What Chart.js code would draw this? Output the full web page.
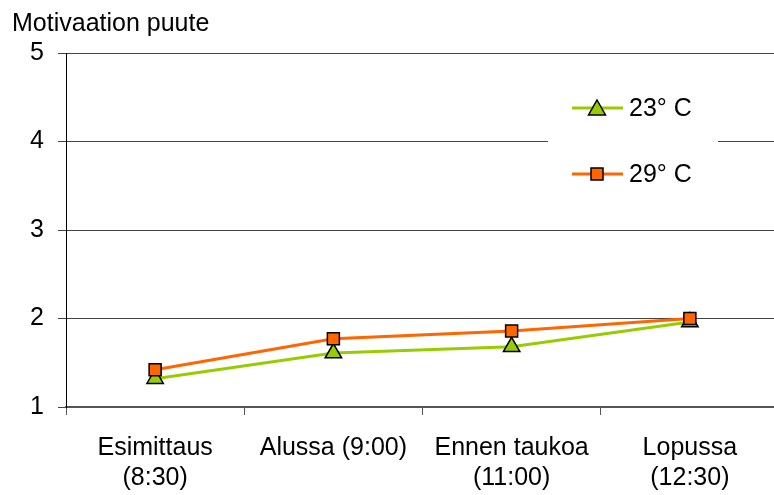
<!DOCTYPE html>
<html>
<head>
<meta charset="utf-8">
<script src="https://cdn.jsdelivr.net/npm/chart.js@4/dist/chart.umd.min.js"></script>
<style>
  html, body { margin: 0; padding: 0; overflow: hidden; background: #fff; }
  #wrap { width: 790px; height: 495px; position: relative; }
</style>
</head>
<body>
<div id="wrap"><canvas id="chart_motivaatio"></canvas></div>
<script>
// data
var categories = [
  ['Esimittaus', '(8:30)'],
  'Alussa (9:00)',
  ['Ennen taukoa', '(11:00)'],
  ['Lopussa', '(12:30)']
];
var seriesNames = ['23\u00b0 C', '29\u00b0 C'];
var values23 = [1.32, 1.61, 1.68, 1.96];
var values29 = [1.42, 1.77, 1.86, 2.00];
var yTicks = [1, 2, 3, 4, 5];

var FONT = "'Liberation Sans', Arial, sans-serif";

var legendBox = {
  id: 'legendBox',
  afterDraw: function (chart) {
    var ctx = chart.ctx;
    ctx.save();
    ctx.fillStyle = '#ffffff';
    ctx.fillRect(548, 75, 170, 125);
    var rows = [
      { y: 108, ds: chart.data.datasets[0] },
      { y: 174, ds: chart.data.datasets[1] }
    ];
    rows.forEach(function (r) {
      var ds = r.ds;
      ctx.strokeStyle = ds.borderColor;
      ctx.lineWidth = 3;
      ctx.beginPath();
      ctx.moveTo(572, r.y);
      ctx.lineTo(623, r.y);
      ctx.stroke();
      ctx.fillStyle = ds.pointBackgroundColor;
      ctx.strokeStyle = '#000';
      ctx.lineWidth = 1.5;
      ctx.beginPath();
      if (ds.pointStyle === 'triangle') {
        ctx.moveTo(597, r.y - 8);
        ctx.lineTo(605.5, r.y + 7);
        ctx.lineTo(588.5, r.y + 7);
        ctx.closePath();
      } else {
        ctx.rect(591, r.y - 6, 12, 12);
      }
      ctx.fill();
      ctx.stroke();
      ctx.fillStyle = '#000';
      ctx.font = '25px ' + FONT;
      ctx.textBaseline = 'middle';
      ctx.textAlign = 'left';
      ctx.fillText(ds.label, 629, r.y + 1);
    });
    ctx.restore();
  }
};

var chart_motivaatio = new Chart(document.getElementById('chart_motivaatio'), {
  type: 'line',
  data: {
    labels: categories,
    datasets: [
      {
        label: seriesNames[0],
        data: values23,
        borderColor: '#99cc00',
        backgroundColor: '#99cc00',
        borderWidth: 3,
        pointStyle: 'triangle',
        pointRadius: 9.5,
        pointHoverRadius: 9.5,
        pointBackgroundColor: '#99cc00',
        pointBorderColor: '#000000',
        pointBorderWidth: 1.5,
        tension: 0,
        order: 2
      },
      {
        label: seriesNames[1],
        data: values29,
        borderColor: '#ff6600',
        backgroundColor: '#ff6600',
        borderWidth: 3,
        pointStyle: 'rect',
        pointRadius: 8.5,
        pointHoverRadius: 8.5,
        pointBackgroundColor: '#ff6600',
        pointBorderColor: '#000000',
        pointBorderWidth: 1.5,
        tension: 0,
        order: 1
      }
    ]
  },
  options: {
    animation: false,
    responsive: true,
    maintainAspectRatio: false,
    layout: { padding: { left: 12, right: 6, top: 0, bottom: 0 } },
    plugins: {
      legend: { display: false },
      tooltip: { enabled: false },
      title: {
        display: true,
        text: 'Motivaation puute',
        align: 'start',
        color: '#000',
        font: { family: FONT, size: 25, weight: 'normal', lineHeight: 1.2 },
        padding: { top: 9, bottom: 14 }
      }
    },
    scales: {
      x: {
        offset: true,
        grid: {
          offset: true,
          drawOnChartArea: false,
          drawTicks: true,
          tickLength: 8,
          color: '#555555'
        },
        border: { display: true, color: '#555555', width: 2 },
        ticks: {
          color: '#000',
          font: { family: FONT, size: 25, lineHeight: 1.2 },
          padding: 18,
          maxRotation: 0,
          autoSkip: false
        },
        afterFit: function (scale) { scale.height = 88; }
      },
      y: {
        min: 1,
        max: 5,
        afterBuildTicks: function (scale) {
          scale.ticks = yTicks.map(function (v) { return { value: v }; });
        },
        grid: {
          color: '#444444',
          lineWidth: 1,
          drawTicks: true,
          tickLength: 8
        },
        border: { display: true, color: '#000000', width: 1 },
        ticks: {
          color: '#000',
          font: { family: FONT, size: 25 },
          padding: 14
        },
        afterFit: function (scale) { scale.width = 54; }
      }
    }
  },
  plugins: [legendBox, {
    id: 'whiteBg',
    beforeDraw: function (chart) {
      var ctx = chart.canvas.getContext('2d');
      ctx.save();
      ctx.globalCompositeOperation = 'destination-over';
      ctx.fillStyle = 'white';
      ctx.fillRect(0, 0, chart.canvas.width, chart.canvas.height);
      ctx.restore();
    }
  }]
});
</script>
</body>
</html>
